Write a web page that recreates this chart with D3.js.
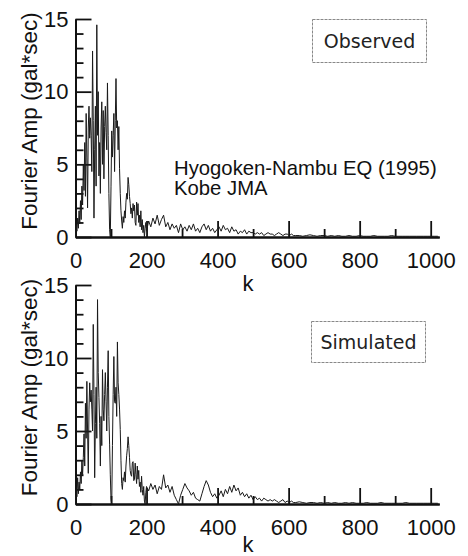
<!DOCTYPE html>
<html>
<head>
<meta charset="utf-8">
<style>
  body { margin: 0; background: #fff; }
  svg text { font-family: "Liberation Sans", Arial, sans-serif; fill: #111; }
  .axis path, .axis line { stroke: #111; }
  .axis .domain { stroke-width: 2; }
  .axis line { stroke-width: 1.8; }
  .spec { fill: none; stroke: #1a1a1a; stroke-width: 1; stroke-linejoin: round; }
  .tag rect { fill: none; stroke: #888; stroke-width: 1; stroke-dasharray: 3,1; }
  .tag text { font-family: "DejaVu Sans", Verdana, sans-serif; font-size: 19px; fill: #222; }
</style>
</head>
<body>
<svg id="chart" width="468" height="556"></svg>
<script src="https://cdn.jsdelivr.net/npm/d3@7/dist/d3.min.js"></script>
<script>
// wavenumber grid in three bands (fine near the peaks, coarse in the tail)
const kBand1 = d3.range(0, 200, 2)      // 100 values
const kBand2 = d3.range(200, 620, 6)    // 70 values
const kBand3 = d3.range(620, 1025, 10)  // 41 values

const xTicksMajor = [0, 200, 400, 600, 800, 1000]
const xTicksMinor = [100, 300, 500, 700, 900]
const yTicksMajor = [0, 5, 10, 15]
const yTicksMinor = [1, 2, 3, 4, 6, 7, 8, 9, 11, 12, 13, 14]

// observed spectrum
const observed1 = [0, 0.8, 0.4, 1.3, 0.6, 1.8, 0.9, 2.5, 1.2, 3.5,
  2.2, 5.0, 3.2, 6.5, 2.8, 8.5, 5.5, 2.0, 7.5, 9.0,
  6.8, 8.2, 7.0, 4.5, 12.8, 8.0, 1.3, 6.0, 9.0, 3.5,
  14.6, 7.0, 10.0, 4.2, 6.5, 3.0, 7.5, 9.3, 5.0, 8.7,
  4.0, 7.6, 9.0, 7.2, 6.0, 10.6, 7.0, 3.0, 0.5, 0,
  3.5, 7.3, 5.5, 7.0, 8.5, 4.5, 8.0, 10.9, 7.5, 8.0,
  6.0, 7.6, 4.7, 3.0, 1.8, 1.1, 0.6, 1.4, 1.0, 1.8,
  1.3, 2.4, 3.0, 2.6, 4.1, 3.6, 2.8, 2.3, 1.6, 2.0,
  1.3, 2.3, 1.8, 2.2, 1.0, 0.8, 2.4, 1.5, 2.3, 1.0,
  1.5, 0.7, 1.8, 0.5, 1.2, 0.3, 0.8, 0.0, 0.6, 1.0]
const observed2 = [0.4, 1.1, 0.7, 1.3, 0.9, 1.5, 0.8, 1.2, 1.5, 0.7,
  1.0, 0.5, 0.9, 0.6, 0.8, 0.3, 0.9, 0.5, 0.7, 0.4,
  0.8, 0.5, 0.9, 0.4, 0.6, 0.3, 0.7, 0.9, 0.5, 0.8,
  0.4, 0.6, 0.3, 0.5, 0.7, 0.4, 0.8, 0.5, 0.6, 0.3,
  0.7, 0.4, 0.5, 0.2, 0.4, 0.3, 0.5, 0.2, 0.4, 0.3,
  0.3, 0.2, 0.3, 0.2, 0.3, 0.1, 0.2, 0.3, 0.2, 0.2,
  0.1, 0.2, 0.3, 0.2, 0.1, 0.2, 0.2, 0.1, 0.2, 0.1]
const observed3 = [0.1, 0.1, 0.05, 0.1, 0.15, 0.1, 0.05, 0.1, 0.1, 0.05,
  0.1, 0.05, 0.1, 0.05, 0.05, 0.1, 0.05, 0.05, 0.1, 0.05,
  0.05, 0.05, 0.1, 0.05, 0.05, 0.05, 0.05, 0.1, 0.05, 0.05,
  0.05, 0.05, 0.05, 0.05, 0.05, 0.05, 0.05, 0.05, 0.05, 0.05, 0.05]

// simulated spectrum
const simulated1 = [0, 1.0, 0.5, 1.8, 0.7, 1.5, 1.0, 2.2, 1.4, 3.0,
  2.0, 3.2, 4.8, 2.6, 6.9, 4.5, 8.4, 5.0, 2.1, 6.5,
  8.3, 7.0, 7.8, 6.5, 5.0, 12.3, 7.5, 1.8, 5.5, 8.0,
  4.5, 14.0, 9.0, 7.3, 5.5, 2.6, 6.0, 4.0, 9.2, 6.5,
  5.7, 7.5, 9.0, 7.0, 5.0, 8.0, 10.5, 6.0, 4.1, 2.0,
  0.3, 0, 4.0, 7.5, 10.1, 7.0, 6.9, 8.0, 6.0, 11.1,
  8.3, 7.5, 6.5, 5.1, 3.0, 1.4, 1.0, 1.8, 1.6, 2.2,
  1.5, 2.6, 3.3, 3.8, 4.6, 4.0, 3.2, 2.3, 2.0, 1.9,
  2.8, 2.9, 1.6, 1.7, 2.8, 2.0, 1.4, 2.6, 1.7, 2.3,
  1.2, 1.5, 0.8, 1.9, 1.0, 0.6, 1.2, 0.2, 0.0, 0.8]
const simulated2 = [1.2, 0.9, 1.4, 1.0, 1.3, 0.7, 1.2, 1.0, 2.0, 1.1,
  1.3, 0.8, 1.2, 0.6, 0.3, 0.0, 0.6, 1.0, 1.4, 1.1,
  0.9, 0.6, 0.8, 0.4, 0.3, 0.2, 0.7, 1.2, 1.6, 1.3,
  0.8, 0.5, 0.7, 0.4, 0.6, 0.9, 0.5, 1.0, 0.7, 1.2,
  0.8, 1.3, 0.9, 1.1, 0.6, 0.8, 0.5, 0.7, 0.4, 0.6,
  0.3, 0.5, 0.3, 0.4, 0.2, 0.4, 0.3, 0.2, 0.3, 0.2,
  0.3, 0.2, 0.1, 0.2, 0.3, 0.1, 0.2, 0.1, 0.2, 0.1]
const simulated3 = [0.1, 0.15, 0.1, 0.05, 0.1, 0.1, 0.05, 0.1, 0.05, 0.1,
  0.05, 0.1, 0.05, 0.05, 0.1, 0.05, 0.1, 0.05, 0.05, 0.05,
  0.1, 0.05, 0.05, 0.05, 0.1, 0.05, 0.05, 0.05, 0.05, 0.05,
  0.05, 0.1, 0.05, 0.05, 0.05, 0.05, 0.05, 0.05, 0.05, 0.05, 0.05]

const yTitle = "Fourier Amp (gal*sec)"
const note = ["Hyogoken-Nambu EQ (1995)", "Kobe JMA"]

function toPoints(bands, ks) {
    let pts = []
    bands.forEach((vals, i) => vals.forEach((v, j) => pts.push({ k: ks[i][j], amp: v })))
    return pts
}

let svg = d3.select("#chart")

let x = d3.scaleLinear()
    .domain([0, 1024])
    .range([75.5, 75.5 + 1024 * 0.3552])

function drawPanel(top, bottom, bands, tag, tagBox, kBase) {
    let y = d3.scaleLinear().domain([0, 15]).range([bottom, top])
    let g = svg.append("g")

    // x axis: minor ticks first, then major with labels
    g.append("g").attr("class", "axis")
        .attr("transform", "translate(0," + bottom + ")")
        .call(d3.axisBottom(x).tickValues(xTicksMinor).tickSizeInner(-8).tickSizeOuter(0).tickFormat(""))
    g.append("g").attr("class", "axis")
        .attr("transform", "translate(0," + bottom + ")")
        .call(d3.axisBottom(x).tickValues(xTicksMajor).tickSizeInner(-16).tickSizeOuter(0)
            .tickPadding(15).tickFormat(d3.format("d")))
        .selectAll("text").attr("font-size", 22)

    g.append("g").attr("class", "axis")
        .attr("transform", "translate(75.5,0)")
        .call(d3.axisLeft(y).tickValues(yTicksMinor).tickSizeInner(-8).tickSizeOuter(0).tickFormat(""))
    g.append("g").attr("class", "axis")
        .attr("transform", "translate(75.5,0)")
        .call(d3.axisLeft(y).tickValues(yTicksMajor).tickSizeInner(-16).tickSizeOuter(0).tickPadding(7))
        .selectAll("text").attr("font-size", 22)

    g.selectAll(".axis text").attr("font-family", "Liberation Sans, Arial, sans-serif").attr("fill", "#111")

    // spectrum
    let line = d3.line().x(d => x(d.k)).y(d => y(d.amp))
    g.append("path")
        .datum(toPoints(bands, [kBand1, kBand2, kBand3]))
        .attr("class", "spec")
        .attr("d", line)

    // axis titles
    g.append("text")
        .attr("transform", "translate(37," + ((top + bottom) / 2 - 7) + ") rotate(-90)")
        .attr("text-anchor", "middle")
        .attr("font-size", 22.5)
        .text(yTitle)
    g.append("text")
        .attr("x", 248).attr("y", kBase)
        .attr("text-anchor", "middle")
        .attr("font-size", 22)
        .text("k")

    // label box
    let t = g.append("g").attr("class", "tag")
    t.append("rect")
        .attr("x", tagBox[0]).attr("y", tagBox[1])
        .attr("width", tagBox[2]).attr("height", tagBox[3])
    t.append("text")
        .attr("x", tagBox[0] + tagBox[2] / 2)
        .attr("y", tagBox[1] + tagBox[3] / 2 + 7)
        .attr("text-anchor", "middle")
        .text(tag)
    return g
}

drawPanel(19, 237, [observed1, observed2, observed3], "Observed", [312.5, 19.5, 114, 43], 291)
drawPanel(285, 504, [simulated1, simulated2, simulated3], "Simulated", [311.5, 321.5, 114, 41], 552)

svg.selectAll(".note")
    .data(note)
    .join("text")
    .attr("class", "note")
    .attr("x", 174)
    .attr("y", (d, i) => 175 + i * 20)
    .attr("font-size", 20.3)
    .text(d => d)
</script>
</body>
</html>
